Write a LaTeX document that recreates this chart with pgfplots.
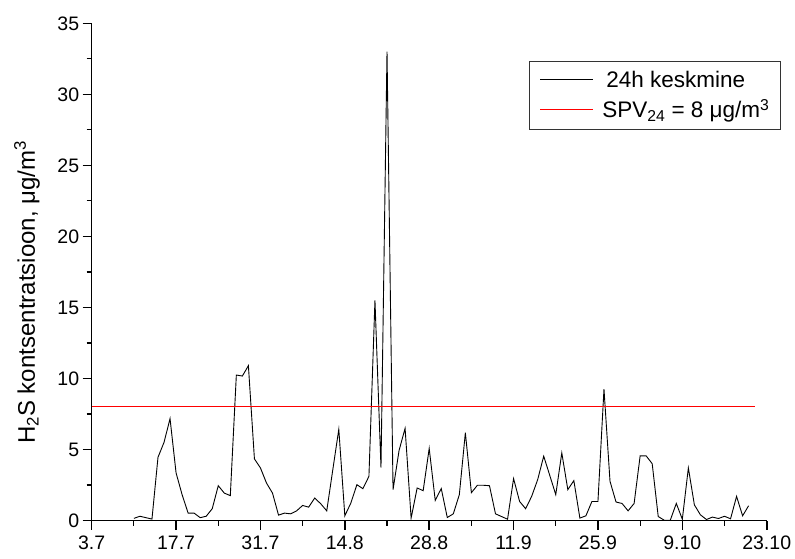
\documentclass[border=0pt]{standalone}
\usepackage{fontspec}
\setmainfont{Liberation Sans}
\usepackage{pgfplots}
\pgfplotsset{compat=1.18}
\begin{document}
\begin{tikzpicture}[x=1pt,y=1pt]
\begin{axis}[
  at={(0,0)}, anchor=south west,
  scale only axis, width=675pt, height=497.2pt,
  xmin=0, xmax=112, ymin=0, ymax=35,
  axis x line*=bottom, axis y line*=left,
  axis line style={-, line width=1.6pt},
  xtick={0,14,...,112},
  xticklabels={3.7,17.7,31.7,14.8,28.8,11.9,25.9,9.10,23.10},
  ytick={0,5,...,35},
  minor x tick num=1, minor y tick num=1,
  tick align=outside,
  major tick length=9pt, minor tick length=5pt,
  major tick style={black, line width=1.6pt},
  minor tick style={black, line width=1.2pt},
  /pgf/number format/assume math mode=true,
  ticklabel style={font=\fontsize{19.5}{21}\selectfont},
  xticklabel style={yshift=-3pt},
  ylabel={H\textsubscript{2}S kontsentratsioon, μg/m\textsuperscript{3}},
  ylabel style={at={(axis description cs:-0.0959,0.4588)}, anchor=center, font=\fontsize{24}{26}\selectfont},
  legend style={at={(1.021,0.924)}, anchor=north east, draw=black!80, line width=0.8pt,
    font=\fontsize{22.5}{24}\selectfont, inner xsep=9pt, inner ysep=8pt,
    column sep=0pt, row sep=6pt},
  legend cell align=left,
  legend image code/.code={},
]
\addplot[draw=black, line width=0.9pt] table {
x y
7 0.15
8 0.3
9 0.2
10 0.1
11 4.45
12 5.5
13 7.17
14 3.35
15 1.82
16 0.52
17 0.52
18 0.2
19 0.3
20 0.83
21 2.45
22 1.93
23 1.75
24 10.24
25 10.17
26 10.9
27 4.34
28 3.7
29 2.64
30 1.93
31 0.38
32 0.52
33 0.47
34 0.68
35 1.06
36 0.94
37 1.58
38 1.18
39 0.68
40 3.56
41 6.42
42 0.33
43 1.23
44 2.52
45 2.24
46 3.11
47 15.5
48 3.72
49 33.0
50 2.17
51 4.93
52 6.49
53 0.17
54 2.29
55 2.1
56 5.07
57 1.42
58 2.25
59 0.21
60 0.47
61 1.82
62 6.18
63 1.96
64 2.48
65 2.48
66 2.45
67 0.47
68 0.28
69 0.09
70 2.95
71 1.34
72 0.83
73 1.7
74 2.88
75 4.53
76 3.18
77 1.82
78 4.76
79 2.17
80 2.81
81 0.17
82 0.33
83 1.34
84 1.34
85 9.25
86 2.76
87 1.30
88 1.20
89 0.68
90 1.2
91 4.55
92 4.55
93 4.0
94 0.28
95 0.02
96 0.02
97 1.2
98 0.09
99 3.7
100 1.1
101 0.4
102 0.07
103 0.24
104 0.14
105 0.3
106 0.12
107 1.7
108 0.33
109 1.04
};
\addlegendentry{\textcolor{black}{\rule[7.5pt]{53pt}{0.9pt}}\hspace{13pt}24h keskmine}
\addplot[draw=red, line width=0.9pt] coordinates {(0,8) (110,8)};
\addlegendentry{\textcolor{red}{\rule[7.5pt]{53pt}{0.9pt}}\hspace{9pt}SPV\textsubscript{24} = 8 μg/m\textsuperscript{3}}
\end{axis}
\pgfresetboundingbox
\path (-91.7,-37.5) rectangle (703.3,520.5);
\end{tikzpicture}
\end{document}
